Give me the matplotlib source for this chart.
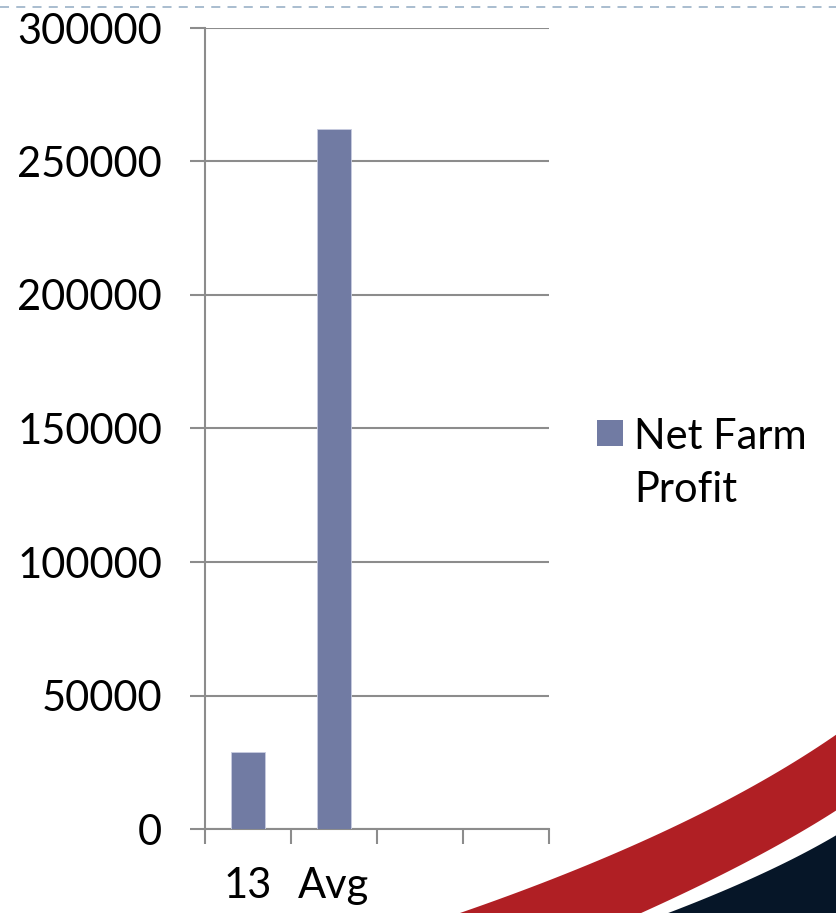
import matplotlib
matplotlib.use("Agg")
import matplotlib.pyplot as plt
import numpy as np
from matplotlib.patches import Polygon, Rectangle
from matplotlib.lines import Line2D

categories = ["13", "Avg", "", ""]
net_farm_profit = [29000, 262000, None, None]
series_name = "Net Farm\nProfit"
y_ticks = [0, 50000, 100000, 150000, 200000, 250000, 300000]

W, H = 837, 913
plt.rcParams["font.family"] = ["Lato", "DejaVu Sans"]

fig = plt.figure(figsize=(W / 100, H / 100), dpi=100)
ax = fig.add_axes([205 / W, 1 - 829 / H, (549 - 205) / W, (829 - 28) / H])

bar_color = "#717ba3"
grid_color = "#8c8c8c"

x = np.arange(len(categories))
vals = [v if v is not None else 0 for v in net_farm_profit]
ax.bar(x, vals, width=0.4, color=bar_color, edgecolor="#c8cce0", linewidth=0.6, zorder=3)

ax.set_xlim(-0.5, len(categories) - 0.5)
ax.set_ylim(0, 300000)
ax.set_yticks(y_ticks)
ax.set_yticklabels([str(t) for t in y_ticks], fontsize=30)
ax.yaxis.grid(True, color=grid_color, linewidth=1.5, zorder=0)
ax.tick_params(axis="y", length=11, width=1.5, color=grid_color, pad=20)

ax.set_xticks(x)
ax.set_xticklabels(categories, fontsize=30)
ax.set_xticks(np.arange(len(categories) + 1) - 0.5, minor=True)
ax.tick_params(axis="x", which="major", length=0, pad=27)
ax.tick_params(axis="x", which="minor", length=11, width=1.5, color=grid_color)

for s in ["top", "right"]:
    ax.spines[s].set_visible(False)
for s in ["left", "bottom"]:
    ax.spines[s].set_color(grid_color)
    ax.spines[s].set_linewidth(1.5)

# legend (drawn by hand so the swatch sits beside the first line)
fig.add_artist(Rectangle((597 / W, 1 - 446 / H), 26 / W, 26 / H,
                         transform=fig.transFigure, facecolor=bar_color,
                         edgecolor="none"))
fig.text(634 / W, 1 - 502 / H, series_name, fontsize=30, ha="left",
         va="baseline", linespacing=1.5)

# dashed line at top
fig.add_artist(Line2D([0, 1], [1 - 7 / H, 1 - 7 / H], transform=fig.transFigure,
                      color="#a3b8cc", linewidth=1.3, linestyle=(0, (5, 4))))


# decorative swoosh, bottom right
def curve(p0, p1, p2, n=40):
    t = np.linspace(0, 1, n)[:, None]
    p0, p1, p2 = map(np.array, (p0, p1, p2))
    return (1 - t) ** 2 * p0 + 2 * (1 - t) * t * p1 + t ** 2 * p2


def to_fig(pts):
    pts = np.asarray(pts, dtype=float)
    return np.column_stack([pts[:, 0] / W, 1 - pts[:, 1] / H])


red_top = curve((460, 913), (700, 830), (840, 732))
red_bot = curve((630, 918), (760, 860), (840, 808))
red = np.vstack([red_top, red_bot[::-1]])
navy_top = curve((655, 918), (770, 875), (840, 833))
navy = np.vstack([navy_top, [(840, 918)]])
fig.add_artist(Polygon(to_fig(red), closed=True, transform=fig.transFigure,
                       facecolor="#b01f24", edgecolor="none"))
fig.add_artist(Polygon(to_fig(navy), closed=True, transform=fig.transFigure,
                       facecolor="#061628", edgecolor="none"))

fig.savefig("out.png", dpi=100)
